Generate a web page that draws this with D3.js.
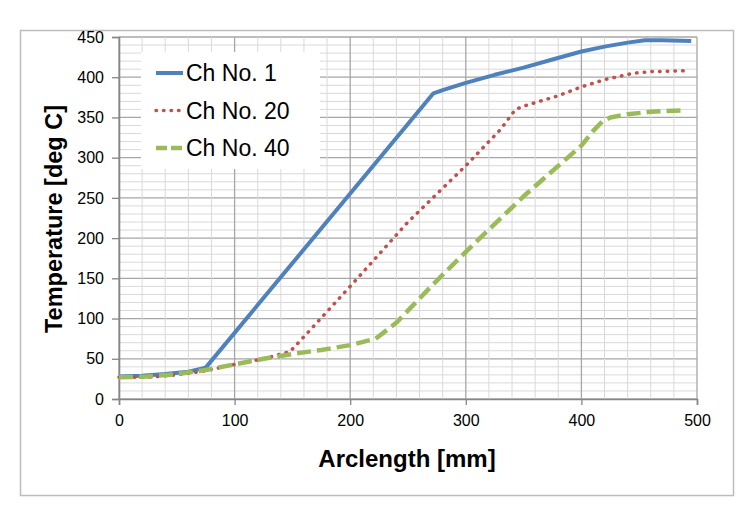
<!DOCTYPE html>
<html><head><meta charset="utf-8">
<script src="https://cdn.jsdelivr.net/npm/d3@7"></script>
<style>body{margin:0;background:#fff}svg{display:block}</style>
</head><body>
<svg id="c" width="750" height="508"></svg>
<script>
const seriesNames = ["Ch No. 1", "Ch No. 20", "Ch No. 40"];
const ch1X = [0, 20, 40, 60, 75, 272, 280, 300, 325, 350, 375, 400, 420, 440, 455, 470, 495];
const ch1Y = [28, 29, 31, 34, 39, 380, 384, 393, 403, 412, 422, 432, 438, 443, 446, 446, 445];
const ch20X = [0, 25, 50, 75, 100, 125, 148, 163, 200, 250, 300, 330, 343, 350, 380, 400, 420, 445, 460, 490];
const ch20Y = [27, 27, 30, 35, 43, 50, 59, 82, 140, 220, 290, 335, 360, 364, 377, 388, 397, 405, 407, 408];
const ch40X = [0, 25, 50, 75, 100, 125, 150, 175, 200, 222, 240, 270, 300, 350, 400, 410, 418, 425, 440, 460, 490];
const ch40Y = [27, 28, 31, 36, 43, 50, 56, 61, 67, 75, 95, 140, 183, 252, 315, 333, 345, 350, 354, 357, 359];
const xTicks = [0, 100, 200, 300, 400, 500];
const yTicks = [0, 50, 100, 150, 200, 250, 300, 350, 400, 450];
const xTitle = "Arclength [mm]";
const yTitle = "Temperature [deg C]";

const svg = d3.select("#c");
const font = "'Liberation Sans', Arial, sans-serif";
const x = d3.scaleLinear().domain([0, 500]).range([119, 697]);
const y = d3.scaleLinear().domain([0, 450]).range([399, 37]);

// outer chart border
svg.append("rect").attr("x", 20.5).attr("y", 30.5).attr("width", 713).attr("height", 465)
  .attr("fill", "#fff").attr("stroke", "#bdbdbd").attr("stroke-width", 1.5);

// grid
const g = svg.append("g");
d3.range(0, 451, 10).forEach(v => {
  const major = v % 50 === 0;
  g.append("line").attr("x1", x(0)).attr("x2", x(500)).attr("y1", y(v)).attr("y2", y(v))
    .attr("stroke", major ? "#a6a6a6" : "#d9d9d9").attr("stroke-width", major ? 1.3 : 1);
});
d3.range(0, 501, 20).forEach(v => {
  const major = v % 100 === 0;
  g.append("line").attr("x1", x(v)).attr("x2", x(v)).attr("y1", y(0)).attr("y2", y(450))
    .attr("stroke", major ? "#a6a6a6" : "#d9d9d9").attr("stroke-width", major ? 1.3 : 1);
});

// axes
const xAxis = d3.axisBottom(x).tickValues(xTicks).tickSize(6).tickPadding(10);
const yAxis = d3.axisLeft(y).tickValues(yTicks).tickSize(7).tickPadding(8);
const gx = svg.append("g").attr("transform", `translate(0,${y(0)})`).call(xAxis);
const gy = svg.append("g").attr("transform", `translate(${x(0)},0)`).call(yAxis);
[gx, gy].forEach(a => {
  a.select(".domain").attr("stroke", "#868686").attr("stroke-width", 1.6);
  a.selectAll(".tick line").attr("stroke", "#868686").attr("stroke-width", 1.3);
  a.selectAll("text").attr("font-family", font).attr("font-size", 16).attr("fill", "#000");
});

// lines
const line = d3.line().x(d => x(d[0])).y(d => y(d[1])).curve(d3.curveLinear);
const data = [
  {name: seriesNames[0], pts: ch1X.map((v, i) => [v, ch1Y[i]]), color: "#4f81bd", w: 4, dash: null, cap: "butt"},
  {name: seriesNames[1], pts: ch20X.map((v, i) => [v, ch20Y[i]]), color: "#c0504d", w: 3.5, dash: "0.5,7.2", cap: "round"},
  {name: seriesNames[2], pts: ch40X.map((v, i) => [v, ch40Y[i]]), color: "#9bbb59", w: 4.5, dash: "14,6", cap: "butt"}
];
data.forEach(s => {
  svg.append("path").attr("d", line(s.pts)).attr("fill", "none").attr("stroke", s.color)
    .attr("stroke-width", s.w).attr("stroke-dasharray", s.dash).attr("stroke-linecap", s.cap)
    .attr("stroke-linejoin", "round");
});

// legend
const lg = svg.append("g");
lg.append("rect").attr("x", 141).attr("y", 52).attr("width", 179).attr("height", 117).attr("fill", "#fff");
data.forEach((s, i) => {
  const cy = 73 + i * 37.5;
  lg.append("line").attr("x1", 156).attr("x2", 183).attr("y1", cy).attr("y2", cy)
    .attr("stroke", s.color).attr("stroke-width", s.w).attr("stroke-dasharray", s.dash ? (i === 1 ? "0.5,7" : "11,4") : null)
    .attr("stroke-linecap", s.cap);
  lg.append("text").attr("x", 186).attr("y", cy).attr("dy", "0.36em").attr("font-family", font)
    .attr("font-size", 23).attr("fill", "#000").text(s.name);
});

// titles
svg.append("text").attr("x", 407).attr("y", 467).attr("text-anchor", "middle").attr("font-family", font)
  .attr("font-weight", "bold").attr("font-size", 24).attr("fill", "#000").text(xTitle);
svg.append("text").attr("transform", "translate(62,219) rotate(-90)").attr("text-anchor", "middle")
  .attr("font-family", font).attr("font-weight", "bold").attr("font-size", 23.5).attr("fill", "#000").text(yTitle);
</script>
</body></html>
